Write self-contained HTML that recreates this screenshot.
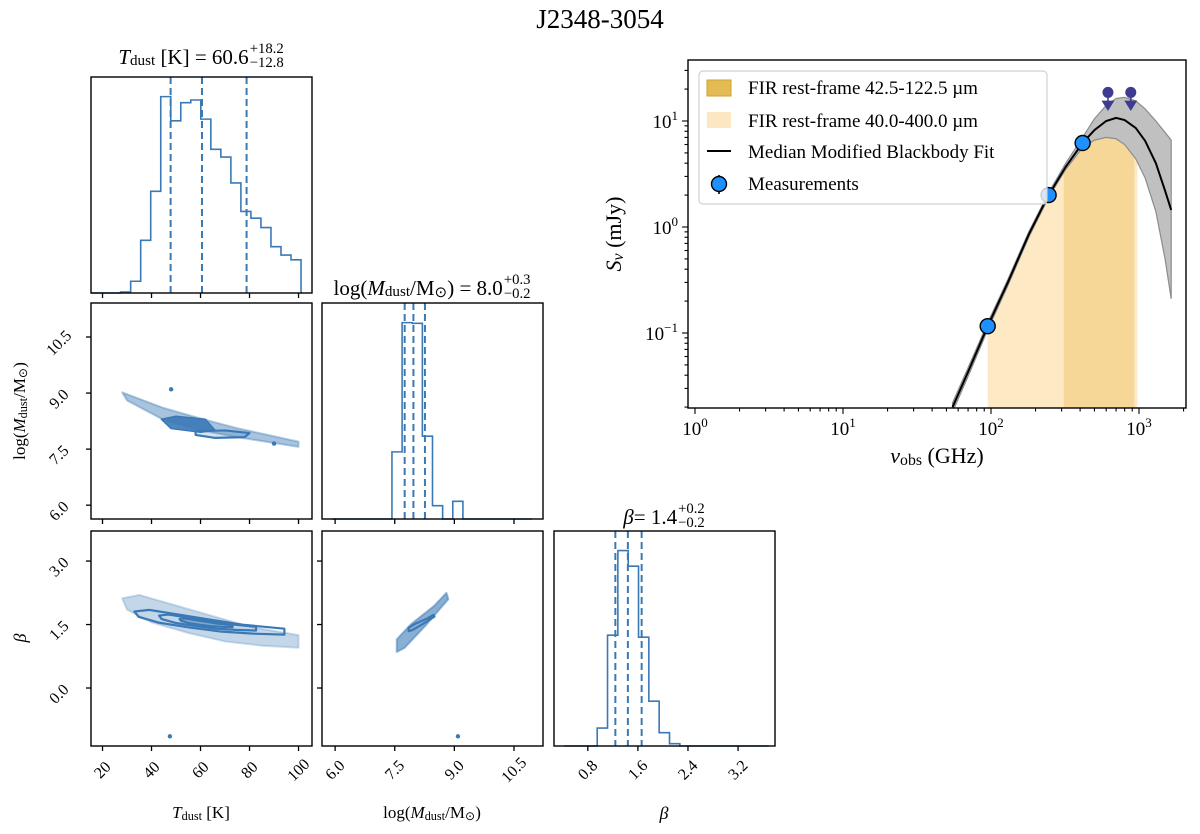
<!DOCTYPE html>
<html><head><meta charset="utf-8"><style>
body{margin:0;background:#fff;}
svg{display:block;font-family:"Liberation Serif","DejaVu Serif",serif;}
</style></head><body>
<svg id="fig" width="1200" height="834" viewBox="0 0 1200 834" xmlns="http://www.w3.org/2000/svg">
<text x="600" y="28" font-size="27" text-anchor="middle">J2348-3054</text>
</svg>
<script>
// ---------- corner data ----------
const tEdgeStart = 27.4, tBinW = 4.09;
const tCounts = [3,35,157,303,585,513,567,575,518,428,405,328,243,223,195,138,113,99];
const tRange = [15.3, 101.0];
const tQuant = [47.8, 60.6, 78.8];
const mEdgeStart = 7.43, mBinW = 0.255;
const mCounts = [201,588,586,248,40,0,53];
const mRange = [5.92, 10.95];
const mQuant = [7.75, 7.97, 8.26];
const bEdgeStart = 0.95, bBinW = 0.165;
const bCounts = [54,334,589,542,328,135,40,7];
const bRange = [0.42, 3.69];
const bQuant = [1.24, 1.44, 1.66];
const tTicks = [20,40,60,80,100];
const mTicks = [6.0,7.5,9.0,10.5];
const bTicksX = [0.8,1.6,2.4,3.2];
const bTicksY = [0.0,1.5,3.0];
// 2D cloud outlines (data units)
const tmCloudT = [28,45,60,75,100,100,75,60,45,30];
const tmCloudM = [9.02,8.6,8.32,8.06,7.7,7.56,7.82,8.0,8.28,8.8];
const tmCoreT = [44,50,62,66,60,48];
const tmCoreM = [8.3,8.38,8.3,8.0,7.95,8.05];
const tmRingT = [58,70,80,78,66,58];
const tmRingM = [7.98,8.0,7.93,7.82,7.8,7.88];
const tmOutliersT = [48,90];
const tmOutliersM = [9.1,7.65];
const tbCloudT = [28,35,50,65,80,100,100,85,70,55,40,30];
const tbCloudB = [2.12,2.2,1.95,1.7,1.45,1.25,0.95,1.0,1.1,1.3,1.55,1.85];
const tbOutT = [47.5]; const tbOutB = [-1.14];
const mbCloudM = [7.55,7.75,8.3,8.85,8.8,8.5,7.9,7.55];
const mbCloudB = [0.85,0.95,1.5,2.1,2.25,1.95,1.5,1.15];
const mbOutM = [9.09]; const mbOutB = [-1.14];
// ---------- SED data ----------
const sedFreq = [55,70,95,130,180,245,320,416,500,600,700,800,950,1100,1300,1500,1650];
const sedMedian = [0.02,0.043,0.116,0.3,0.85,2.0,3.7,6.2,8.2,10.0,10.7,10.2,8.6,6.5,4.0,2.2,1.45];
const sedUpper = [0.022,0.047,0.125,0.32,0.9,2.1,4.0,7.0,10.5,14.0,16.3,16.7,15.5,13.0,10.0,7.8,6.6];
const sedLower = [0.018,0.039,0.107,0.28,0.8,1.9,3.5,5.6,6.6,7.0,6.8,6.0,4.4,2.9,1.4,0.5,0.21];
const measFreq = [95,245,416];
const measFlux = [0.116,2.0,6.2];
const ulFreq = [617,880];
const ulFlux = [18.6,18.6];
const firWideRange = [95,975];
const firNarrowRange = [310,930];
const sedXTicks = [0,1,2,3];
const sedYTicks = [-1,0,1];

const NS="http://www.w3.org/2000/svg";
const svg=document.getElementById('fig');
function mk(tag,attrs,parent){const e=document.createElementNS(NS,tag);for(const k in attrs)e.setAttribute(k,attrs[k]);(parent||svg).appendChild(e);return e;}
const C="#3b79b6";
function lin(d0,d1,p0,p1){return v=>p0+(v-d0)/(d1-d0)*(p1-p0);}

const colX=[[91,312],[322,543],[554,775]];
const rowY=[[77,293],[303,519],[531,746]];
const xT=lin(15.3,105.5,91,312), xM=lin(5.67,11.23,322,543), xB=lin(0.26,3.79,554,775);
const yM=lin(5.63,11.41,519,303), yB=lin(-1.37,3.71,746,531);

function frame(c,r,name){const e=mk('rect',{x:colX[c][0],y:rowY[r][0],width:colX[c][1]-colX[c][0],height:rowY[r][1]-rowY[r][0],fill:'none',stroke:'#000','stroke-width':1.4});

}

function hist(c,r,xs,start,w,counts,range,quants,name){
  const base=rowY[r][1], top=rowY[r][0];
  const mx=Math.max(...counts);
  const y=v=>base-v/(mx*1.1)*(base-top);
  let d=`M${xs(range[0])},${base} L${xs(start)},${base}`;
  counts.forEach((v,i)=>{d+=` L${xs(start+i*w)},${y(v)} L${xs(start+(i+1)*w)},${y(v)}`;});
  d+=` L${xs(start+counts.length*w)},${base} L${xs(range[1])},${base}`;
  const p=mk('path',{d:d,fill:'none',stroke:C,'stroke-width':1.6});
  
  
  quants.forEach(q=>{const l=mk('line',{x1:xs(q),x2:xs(q),y1:top,y2:base,stroke:C,'stroke-width':2,'stroke-dasharray':'7,4'});
    
    });
}
function poly(xs,ys,X,Y,name,fill,op,sw){
  const pts=X.map((v,i)=>xs(v)+','+ys(Y[i])).join(' ');
  const p=mk('polygon',{points:pts,fill:fill,'fill-opacity':op,stroke:C,'stroke-opacity':sw?1:op*0.8,'stroke-width':sw||2,'stroke-linejoin':'round'});
  
  
  return p;
}
function scaledPoly(xs,ys,X,Y,s,name,fill,op,strokeOnly){
  const cx=X.reduce((a,b)=>a+b)/X.length, cy=Y.reduce((a,b)=>a+b)/Y.length;
  const pts=X.map((v,i)=>xs(cx+(v-cx)*s)+','+ys(cy+(Y[i]-cy)*s*0.55)).join(' ');
  const p=mk('polygon',{points:pts,fill:strokeOnly?'none':fill,'fill-opacity':op,stroke:fill,'stroke-width':2.2,'stroke-linejoin':'round'});
  
  
}
function dots(xs,ys,X,Y,name){X.forEach((v,i)=>{const c=mk('circle',{cx:xs(v),cy:ys(Y[i]),r:2.2,fill:C});
  
  });}

// row1
hist(0,0,xT,tEdgeStart,tBinW,tCounts,tRange,tQuant,'tdust');
frame(0,0,'tdust-hist-panel');
// row2
poly(xT,yM,tmCloudT,tmCloudM,'tdust-mdust-cloud',C,0.45);
poly(xT,yM,tmCoreT,tmCoreM,'tdust-mdust-core',C,0.9,1.5);
poly(xT,yM,tmRingT,tmRingM,'tdust-mdust-contour',C,0.2,2.2);
dots(xT,yM,tmOutliersT,tmOutliersM,'tdust-mdust-outlier');
frame(0,1,'tdust-mdust-panel');
hist(1,1,xM,mEdgeStart,mBinW,mCounts,mRange,mQuant,'mdust');
frame(1,1,'mdust-hist-panel');
// row3
poly(xT,yB,tbCloudT,tbCloudB,'tdust-beta-cloud',C,0.3);
scaledPoly(xT,yB,tbCloudT,tbCloudB,0.85,'tdust-beta-contour-outer',C,0,true);
scaledPoly(xT,yB,tbCloudT,tbCloudB,0.55,'tdust-beta-contour-mid',C,0,true);
scaledPoly(xT,yB,tbCloudT,tbCloudB,0.3,'tdust-beta-contour-inner',C,0.5,false);
dots(xT,yB,tbOutT,tbOutB,'tdust-beta-outlier');
frame(0,2,'tdust-beta-panel');
poly(xM,yB,mbCloudM,mbCloudB,'mdust-beta-cloud',C,0.6);
scaledPoly(xM,yB,mbCloudM,mbCloudB,0.5,'mdust-beta-contour',C,0,true);
dots(xM,yB,mbOutM,mbOutB,'mdust-beta-outlier');
frame(1,2,'mdust-beta-panel');
hist(2,2,xB,bEdgeStart,bBinW,bCounts,bRange,bQuant,'beta');
frame(2,2,'beta-hist-panel');

// ticks
function xticks(xs,ticks,r,labels,name){ticks.forEach(t=>{const x=xs(t),y=rowY[r][1];
  const l=mk('line',{x1:x,x2:x,y1:y,y2:y+5,stroke:'#000','stroke-width':1.3});
  
  
  if(labels){const cx=x,cy=y+24;const tx=mk('text',{x:cx,y:cy+5,'font-size':16,'text-anchor':'middle',transform:`rotate(-45 ${cx} ${cy})`});tx.textContent=t.toFixed(t>=20?0:1);
   
   }});}
function yticks(ys,ticks,c,labels,name){ticks.forEach(t=>{const y=ys(t),x=colX[c][0];
  const l=mk('line',{x1:x-5,x2:x,y1:y,y2:y,stroke:'#000','stroke-width':1.3});
  
  
  if(labels){const cx=x-32,cy=y+6;const tx=mk('text',{x:cx,y:cy+5,'font-size':16,'text-anchor':'middle',transform:`rotate(-45 ${cx} ${cy})`});tx.textContent=t.toFixed(1);
   
   }});}
xticks(xT,tTicks,0,false,'row1-x');
xticks(xT,tTicks,1,false,'row2-x');
xticks(xM,mTicks,1,false,'row2-col2-x');
xticks(xT,tTicks,2,true,'tdust-x');
xticks(xM,mTicks,2,true,'mdust-x');
xticks(xB,bTicksX,2,true,'beta-x');
yticks(yM,mTicks,0,true,'mdust-y');
yticks(yB,bTicksY,0,true,'beta-y');
yticks(yB,bTicksY,1,false,'col2-beta-y');

function htext(x,y,html,size,name,rot){const fo=mk('foreignObject',{x:x-200,y:y-20,width:400,height:40});
  if(rot)fo.setAttribute('transform',`rotate(-90 ${x} ${y})`);
  
  
  fo.innerHTML=`<div xmlns="http://www.w3.org/1999/xhtml" style="width:400px;height:40px;display:flex;align-items:center;justify-content:center;font-family:'Liberation Serif',serif;font-size:${size}px;white-space:nowrap">${html}</div>`;}
const sub=s=>`<span style="font-size:0.72em;position:relative;top:0.3em">${s}</span>`;
const pm=(a,b)=>`<span style="display:inline-flex;flex-direction:column;font-size:0.7em;line-height:0.95;vertical-align:middle;margin-left:1px">${a}<span>${b}</span></span>`;
htext(201,57,`<i>T</i>${sub('dust')}&nbsp;[K] = 60.6${pm('+18.2','−12.8')}`,21,'tdust-title');
htext(432,288,`log(<i>M</i>${sub('dust')}/M${sub('⊙')}) = 8.0${pm('+0.3','−0.2')}`,21,'mdust-title');
htext(664,517,`<i>β</i> = 1.4${pm('+0.2','−0.2')}`,21,'beta-title');
htext(201,813,`<i>T</i>${sub('dust')}&nbsp;[K]`,17,'tdust-axis-label');
htext(432,813,`log(<i>M</i>${sub('dust')}/M${sub('⊙')})`,17,'mdust-axis-label');
htext(664,813,`<i>β</i>`,18,'beta-axis-label');
htext(20,411,`log(<i>M</i>${sub('dust')}/M${sub('⊙')})`,17,'mdust-y-axis-label',true);
htext(20,638,`<i>β</i>`,18,'beta-y-axis-label',true);

// ---------- SED ----------
const SX=[688,1186], SY=[60,408];
const sx=f=>695+Math.log10(f)*148;
const sy=v=>121-(Math.log10(v)-1)*106;
const g=mk('g',{});


const cp=mk('clipPath',{id:'sedclip'},g);
mk('rect',{x:SX[0],y:SY[0],width:SX[1]-SX[0],height:SY[1]-SY[0]},cp);
const pg=mk('g',{'clip-path':'url(#sedclip)'},g);
function interpLog(f,arr){for(let i=0;i<sedFreq.length-1;i++){if(f<=sedFreq[i+1]){const t=(Math.log(f)-Math.log(sedFreq[i]))/(Math.log(sedFreq[i+1])-Math.log(sedFreq[i]));return Math.exp(Math.log(arr[i])+t*(Math.log(arr[i+1])-Math.log(arr[i])));}}return arr[arr.length-1];}
function fir(range,fill,name){let d=`M${sx(range[0])},${SY[1]}`;const fs=[range[0],...sedFreq.filter(f=>f>range[0]&&f<range[1]),range[1]];
  fs.forEach(f=>{d+=` L${sx(f)},${sy(interpLog(f,sedLower))}`;});d+=` L${sx(range[1])},${SY[1]} Z`;
  const p=mk('path',{d:d,fill:fill},pg);
  
  }
fir(firWideRange,'#fde9c4','fir-40-400-region');
fir(firNarrowRange,'#f7d797','fir-42-122-region');
let bd='';sedFreq.forEach((f,i)=>{bd+=(i?' L':'M')+sx(f)+','+sy(sedUpper[i]);});
for(let i=sedFreq.length-1;i>=0;i--)bd+=` L${sx(sedFreq[i])},${sy(sedLower[i])}`;
const band=mk('path',{d:bd+' Z',fill:'#8c8c8c','fill-opacity':0.55,stroke:'#8c8c8c','stroke-width':1.2},pg);


let md='';sedFreq.forEach((f,i)=>{md+=(i?' L':'M')+sx(f)+','+sy(sedMedian[i]);});
const med=mk('path',{d:md,fill:'none',stroke:'#000','stroke-width':2},pg);


measFreq.forEach((f,i)=>{const c=mk('circle',{cx:sx(f),cy:sy(measFlux[i]),r:7.5,fill:'#1e90ff',stroke:'#000','stroke-width':1.4},pg);
  
  });
ulFreq.forEach((f,i)=>{const x=sx(f),y=sy(ulFlux[i]);
  const c=mk('circle',{cx:x,cy:y,r:5.5,fill:'#3f3c8f'},pg);
  
  
  const a=mk('path',{d:`M${x},${y} L${x},${y+12} M${x-5},${y+9} L${x},${y+17} L${x+5},${y+9} Z`,stroke:'#3f3c8f','stroke-width':1.6,fill:'#3f3c8f'},pg);
  
  });
const sf=mk('rect',{x:SX[0],y:SY[0],width:SX[1]-SX[0],height:SY[1]-SY[0],fill:'none',stroke:'#000','stroke-width':1.4},g);


for(let dcd=0;dcd<=3;dcd++){for(let m=1;m<10;m++){const f=Math.pow(10,dcd)*m;const x=sx(f);if(x<SX[0]||x>SX[1])continue;
  const t=mk('line',{x1:x,x2:x,y1:SY[1],y2:SY[1]+(m==1?6:3.5),stroke:'#000','stroke-width':1.1},g);
  
  }}
for(let dcd=-2;dcd<=1;dcd++){for(let m=1;m<10;m++){const v=Math.pow(10,dcd)*m;const y=sy(v);if(y<SY[0]||y>SY[1])continue;
  const t=mk('line',{x1:SX[0]-(m==1?6:3.5),x2:SX[0],y1:y,y2:y,stroke:'#000','stroke-width':1.1},g);
  
  }}
sedXTicks.forEach(p=>{const x=sx(Math.pow(10,p));const t=mk('text',{x:x,y:SY[1]+27,'font-size':19,'text-anchor':'middle'},g);
  t.innerHTML=`10<tspan dy="-8" font-size="13">${p}</tspan>`;
  
  });
sedYTicks.forEach(p=>{const y=sy(Math.pow(10,p));const t=mk('text',{x:SX[0]-10,y:y+7,'font-size':19,'text-anchor':'end'},g);
  t.innerHTML=`10<tspan dy="-8" font-size="13">${p<0?'−1':p}</tspan>`;
  
  });
htext(937,456,`<i>ν</i>${sub('obs')}&nbsp;(GHz)`,22,'sed-x-axis-label');
htext(614,234,`<i>S</i>${sub('<i>ν</i>')}&nbsp;(mJy)`,22,'sed-y-axis-label',true);
// legend
const lg=mk('g',{},g);


mk('rect',{x:699,y:71,width:348,height:133,rx:4,fill:'#fff','fill-opacity':0.8,stroke:'#d0d0d0','stroke-width':1.2},lg);
const le=[['FIR rest-frame 42.5-122.5 µm',88],['FIR rest-frame 40.0-400.0 µm',121],['Median Modified Blackbody Fit',152],['Measurements',184]];
const p1=mk('rect',{x:707,y:80,width:24,height:16,fill:'#e3bb55',stroke:'#d6a22c'},lg);


const p2=mk('rect',{x:707,y:112,width:24,height:16,fill:'#fde7c2'},lg);


const p3=mk('line',{x1:707,x2:731,y1:151,y2:151,stroke:'#000','stroke-width':2},lg);


const p4=mk('line',{x1:719,x2:719,y1:175,y2:194,stroke:'#000','stroke-width':1.6},lg);


const p5=mk('circle',{cx:719,cy:184,r:7.5,fill:'#1e90ff',stroke:'#000','stroke-width':1.4},lg);


le.forEach(([t,y])=>{const tx=mk('text',{x:748,y:y+6,'font-size':19},lg);tx.textContent=t;
  
  });
</script>
</body></html>
